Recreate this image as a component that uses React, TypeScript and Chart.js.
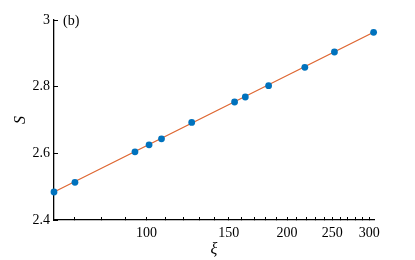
import React, { useEffect, useRef } from "react";
import { Chart, registerables } from "chart.js";

Chart.register(...registerables);

const xiValues = [63.4, 70.3, 94.5, 101.3, 107.7, 125.0, 154.4, 162.8, 182.6, 218.3, 252.6, 306.4];
const sValues = [2.484, 2.513, 2.6045, 2.6256, 2.6436, 2.6926, 2.754, 2.769, 2.803, 2.858, 2.904, 2.963];
const fitXi = [63.4, 306.4];
const fitS = [2.484, 2.963];
const xTickValues = [70, 80, 90, 100, 110, 120, 130, 140, 150, 160, 170, 180, 190, 200, 210, 220, 230, 240, 250, 260, 270, 280, 290, 300];
const xTickLabels = [100, 150, 200, 250, 300];
const yTickValues = [2.4, 2.6, 2.8, 3];
const panelLabel = "(b)";
const xTitle = "ξ";
const yTitle = "S";

const FONT = "'Liberation Serif', 'DejaVu Serif', serif";

export default function App() {
  const ref = useRef<HTMLCanvasElement | null>(null);
  useEffect(() => {
    if (!ref.current) return;
    const panelPlugin = {
      id: "panelLabel",
      afterDraw(chart: any) {
        const { ctx, chartArea } = chart;
        ctx.save();
        ctx.font = `14px ${FONT}`;
        ctx.fillStyle = "#000";
        ctx.textAlign = "left";
        ctx.textBaseline = "middle";
        ctx.fillText(panelLabel, chartArea.left + 9, chartArea.top + 1);
        ctx.restore();
      },
    };
    const chart = new Chart(ref.current, {
      type: "scatter",
      data: {
        datasets: [
          {
            data: xiValues.map((x, i) => ({ x, y: sValues[i] })),
            backgroundColor: "#0072BD",
            borderColor: "#0072BD",
            pointRadius: 3.4,
            borderWidth: 0,
            showLine: false,
            clip: false as any,
          },
          {
            data: fitXi.map((x, i) => ({ x, y: fitS[i] })),
            borderColor: "#DE6530",
            borderWidth: 1.2,
            pointRadius: 0,
            showLine: true,
            clip: false as any,
          },
        ],
      },
      plugins: [panelPlugin],
      options: {
        animation: false,
        responsive: false,
        events: [],
        layout: { padding: { top: 20, right: 41, left: 0, bottom: 0 } },
        plugins: { legend: { display: false }, tooltip: { enabled: false } },
        scales: {
          x: {
            type: "logarithmic",
            min: 63.4,
            max: 307,
            afterFit: (s: any) => {
              s.height = 40;
            },
            afterBuildTicks: (s: any) => {
              s.ticks = xTickValues.map((v) => ({ value: v }));
            },
            border: { color: "#000", width: 1.3 },
            grid: {
              drawOnChartArea: false,
              drawTicks: true,
              tickLength: -3,
              color: "#000",
              tickColor: "#000",
              tickWidth: 1,
            },
            ticks: {
              autoSkip: false,
              maxRotation: 0,
              padding: 8,
              color: "#000",
              font: { family: FONT, size: 14 },
              callback: (v: any) => (xTickLabels.includes(Number(v)) ? String(v) : ""),
            },
            title: {
              display: true,
              text: xTitle,
              color: "#000",
              font: { family: FONT, size: 16, style: "italic" },
              padding: { top: 0, bottom: 1 },
            },
          },
          y: {
            type: "linear",
            min: 2.4,
            max: 3,
            afterFit: (s: any) => {
              s.width = 54;
            },
            afterBuildTicks: (s: any) => {
              s.ticks = yTickValues.map((v) => ({ value: v }));
            },
            border: { color: "#000", width: 1.3 },
            grid: {
              drawOnChartArea: false,
              drawTicks: true,
              tickLength: -4,
              color: "#000",
              tickColor: "#000",
              tickWidth: 1,
            },
            ticks: {
              padding: 8,
              color: "#000",
              font: { family: FONT, size: 14 },
              callback: (v: any) => String(Number(Number(v).toFixed(1))),
            },
            title: {
              display: true,
              text: yTitle,
              color: "#000",
              font: { family: FONT, size: 16, style: "italic" },
              padding: { top: 11, bottom: 0 },
            },
          },
        },
      },
    });
    return () => chart.destroy();
  }, []);
  return (
    <div style={{ position: "absolute", left: 0, top: 0, width: 415, height: 260, background: "#fff" }}>
      <canvas ref={ref} width={415} height={260} style={{ display: "block" }} />
    </div>
  );
}
